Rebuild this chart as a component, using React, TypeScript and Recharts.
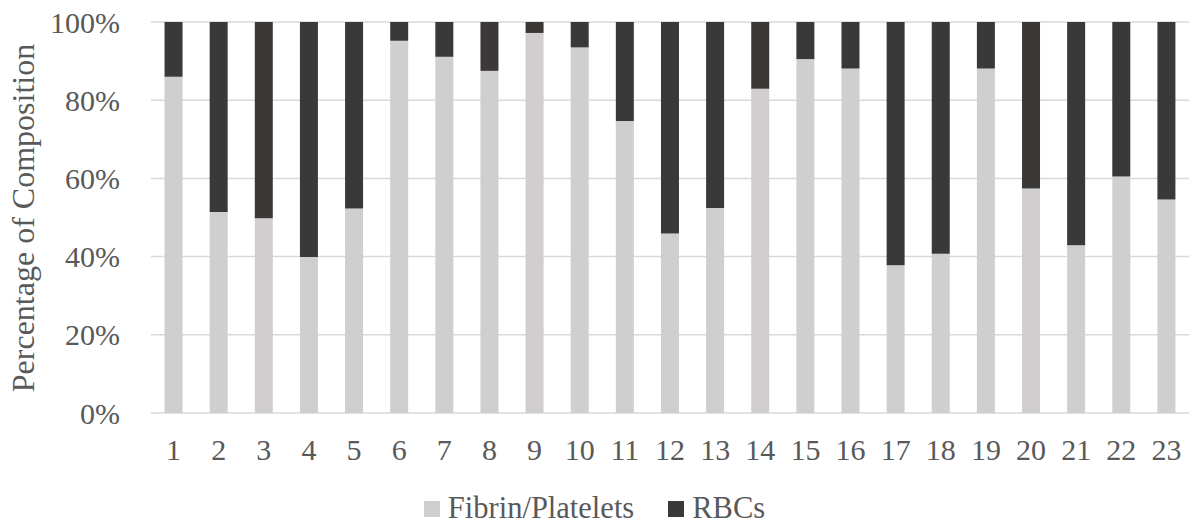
import React from 'react';
import { BarChart, Bar, XAxis, YAxis, CartesianGrid, Legend, Label } from 'recharts';

const samples = ['1', '2', '3', '4', '5', '6', '7', '8', '9', '10', '11', '12', '13', '14', '15', '16', '17', '18', '19', '20', '21', '22', '23'];
const fibrinPlatelets = [86, 51.4, 49.8, 39.9, 52.3, 95.2, 91.1, 87.5, 97.2, 93.5, 74.7, 45.9, 52.4, 82.9, 90.5, 88.1, 37.8, 40.7, 88.1, 57.4, 42.9, 60.5, 54.6];
const rbcs = [14, 48.6, 50.2, 60.1, 47.7, 4.8, 8.9, 12.5, 2.8, 6.5, 25.3, 54.1, 47.6, 17.1, 9.5, 11.9, 62.2, 59.3, 11.9, 42.6, 57.1, 39.5, 45.4];
const yTicks = [0, 20, 40, 60, 80, 100];

const FONT = "'Liberation Serif', 'Times New Roman', serif";
const TEXT = '#595959';
const LIGHT = '#d0cece';
const DARK = '#3b3838';

const data = samples.map((s, i) => ({ name: s, fibrin: fibrinPlatelets[i], rbc: rbcs[i] }));

const renderLegend = (props: any) => {
  const { payload } = props;
  return (
    <div style={{ display: 'flex', justifyContent: 'center', alignItems: 'center', gap: 34, fontFamily: FONT, fontSize: 30.5, color: TEXT }}>
      {payload.map((p: any) => (
        <div key={p.value} style={{ display: 'flex', alignItems: 'center' }}>
          <span style={{ display: 'inline-block', width: 16, height: 16, background: p.color, marginRight: 8 }} />
          <span>{p.value}</span>
        </div>
      ))}
    </div>
  );
};

export default function App() {
  return (
    <div style={{ position: 'absolute', left: 0, top: 0 }}>
      <BarChart
        width={1189}
        height={527}
        data={data}
        margin={{ top: 22, right: 0, bottom: 0, left: 0 }}
        barCategoryGap="30%"
      >
        <CartesianGrid vertical={false} stroke="#d9d9d9" strokeWidth={1.5} />
        <XAxis
          dataKey="name"
          height={78}
          axisLine={false}
          tickLine={false}
          tickSize={0}
          tickMargin={26}
          tick={{ fill: TEXT, fontSize: 30, fontFamily: FONT }}
        />
        <YAxis
          width={151}
          domain={[0, 100]}
          ticks={yTicks}
          tickFormatter={(v) => `${v}%`}
          axisLine={false}
          tickLine={false}
          tickSize={0}
          tickMargin={31}
          tick={{ fill: TEXT, fontSize: 30, fontFamily: FONT }}
        >
          <Label
            content={() => (
              <text
                x={34}
                y={218}
                transform="rotate(-90, 34, 218)"
                textAnchor="middle"
                fill={TEXT}
                fontSize={32}
                fontFamily={FONT}
              >
                Percentage of Composition
              </text>
            )}
          />
        </YAxis>
        <Legend verticalAlign="bottom" height={36} content={renderLegend} />
        <Bar dataKey="fibrin" name="Fibrin/Platelets" stackId="a" fill={LIGHT} isAnimationActive={false} />
        <Bar dataKey="rbc" name="RBCs" stackId="a" fill={DARK} isAnimationActive={false} />
      </BarChart>
    </div>
  );
}
